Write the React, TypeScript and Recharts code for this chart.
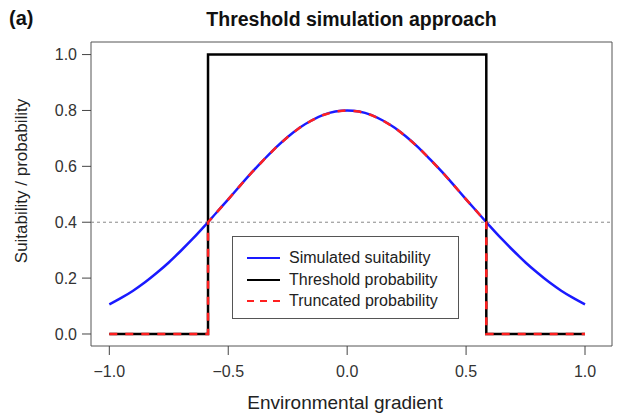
import React from 'react';
import { LineChart, Line, XAxis, YAxis, ReferenceLine, ReferenceArea } from 'recharts';

// environmental gradient sample points and simulated suitability
const gradient = [
  -1, -0.95, -0.9, -0.85, -0.8, -0.75, -0.7, -0.65, -0.6, -0.55, -0.5,
  -0.45, -0.4, -0.35, -0.3, -0.25, -0.2, -0.15, -0.1, -0.05, 0,
  0.05, 0.1, 0.15, 0.2, 0.25, 0.3, 0.35, 0.4, 0.45, 0.5,
  0.55, 0.6, 0.65, 0.7, 0.75, 0.8, 0.85, 0.9, 0.95, 1,
];
const suitability = [
  0.106, 0.129, 0.155, 0.185, 0.219, 0.256, 0.297, 0.34, 0.386, 0.434, 0.482,
  0.531, 0.579, 0.624, 0.667, 0.705, 0.738, 0.764, 0.784, 0.796, 0.8,
  0.796, 0.784, 0.764, 0.738, 0.705, 0.667, 0.624, 0.579, 0.531, 0.482,
  0.434, 0.386, 0.34, 0.297, 0.256, 0.219, 0.185, 0.155, 0.129, 0.106,
];

// threshold step
const cutoff = 0.4;
const thresholdX = [-1, -0.585, -0.585, 0.585, 0.585, 1];
const thresholdY = [0, 0, 1, 1, 0, 0];

const xTicks = [-1, -0.5, 0, 0.5, 1];
const yTicks = [0, 0.2, 0.4, 0.6, 0.8, 1];

const xDomain = [-1.077, 1.1135];
const yDomain = [-0.043, 1.045];

const suitData = gradient.map((x, i) => ({ x, y: suitability[i] }));
const thresholdData = thresholdX.map((x, i) => ({ x, y: thresholdY[i] }));
const lo = thresholdX[1];
const hi = thresholdX[3];
const truncData = [
  { x: -1, y: 0 },
  { x: lo, y: 0 },
  { x: lo, y: cutoff },
  ...suitData.filter((d) => d.x > lo && d.x < hi),
  { x: hi, y: cutoff },
  { x: hi, y: 0 },
  { x: 1, y: 0 },
];

const font = '"Liberation Sans", Arial, Helvetica, sans-serif';
const fmt = (v: number) => (v < 0 ? '\u2212' : '') + Math.abs(v).toFixed(1);

const legendItems = [
  { label: 'Simulated suitability', color: '#1a1aff', dash: undefined },
  { label: 'Threshold probability', color: '#000000', dash: undefined },
  { label: 'Truncated probability', color: '#ff2020', dash: '7 6' },
];

export default function App() {
  return (
    <div style={{ position: 'absolute', left: 0, top: 0, width: 617, height: 416, background: '#fff', fontFamily: font }}>
      <div style={{ position: 'absolute', left: 9, top: 7, fontSize: 20, fontWeight: 'bold', color: '#111' }}>(a)</div>
      <div style={{ position: 'absolute', left: 91, width: 521, top: 8, textAlign: 'center', fontSize: 19.5, fontWeight: 'bold', color: '#111' }}>
        Threshold simulation approach
      </div>
      <div
        style={{
          position: 'absolute', left: 22, top: 181, width: 0, height: 0,
        }}
      >
        <div style={{ position: 'absolute', transform: 'translate(-50%, -50%) rotate(-90deg)', whiteSpace: 'nowrap', fontSize: 17, color: '#222' }}>
          Suitability / probability
        </div>
      </div>
      <div style={{ position: 'absolute', left: 91, width: 508, top: 392, textAlign: 'center', fontSize: 19, color: '#222' }}>
        Environmental gradient
      </div>

      <LineChart width={617} height={416} margin={{ top: 42, right: 5, bottom: 0, left: 0 }} style={{ position: 'absolute', left: 0, top: 0 }}>
        <XAxis
          type="number"
          dataKey="x"
          domain={xDomain}
          ticks={xTicks}
          tickFormatter={fmt}
          allowDataOverflow
          height={70}
          axisLine={false}
          tickSize={9}
          tickMargin={11}
          tickLine={{ stroke: '#444' }}
          tick={{ fontSize: 16, fill: '#333', fontFamily: font }}
        />
        <YAxis
          type="number"
          dataKey="y"
          domain={yDomain}
          ticks={yTicks}
          tickFormatter={fmt}
          allowDataOverflow
          width={91}
          axisLine={false}
          tickSize={9}
          tickMargin={5}
          tickLine={{ stroke: '#444' }}
          tick={{ fontSize: 16, fill: '#333', fontFamily: font }}
        />
        <ReferenceArea
          x1={xDomain[0]}
          x2={xDomain[1]}
          y1={yDomain[0]}
          y2={yDomain[1]}
          fill="none"
          stroke="#555"
          strokeWidth={1}
          ifOverflow="visible"
        />
        <ReferenceLine y={cutoff} stroke="#888" strokeDasharray="3 3" strokeWidth={1} />
        <Line data={suitData} dataKey="y" type="monotone" stroke="#1a1aff" strokeWidth={2.5} dot={false} isAnimationActive={false} />
        <Line data={thresholdData} dataKey="y" type="linear" stroke="#000" strokeWidth={2.5} dot={false} isAnimationActive={false} />
        <Line data={truncData} dataKey="y" type="linear" stroke="#ff2020" strokeWidth={2.5} strokeDasharray="8 8" dot={false} isAnimationActive={false} />
      </LineChart>

      <div
        style={{
          position: 'absolute', left: 232, top: 236, width: 227, height: 83,
          border: '1px solid #555', background: '#fff', boxSizing: 'border-box',
        }}
      >
        {legendItems.map((it, i) => (
          <div key={it.label} style={{ position: 'absolute', left: 0, top: 10 + i * 21.5, height: 22, display: 'flex', alignItems: 'center' }}>
            <svg width={56} height={22} style={{ display: 'block' }}>
              <line x1={14} x2={47} y1={11} y2={11} stroke={it.color} strokeWidth={2} strokeDasharray={it.dash} />
            </svg>
            <span style={{ fontSize: 16, color: '#222', whiteSpace: 'nowrap', lineHeight: '22px' }}>{it.label}</span>
          </div>
        ))}
      </div>
    </div>
  );
}
